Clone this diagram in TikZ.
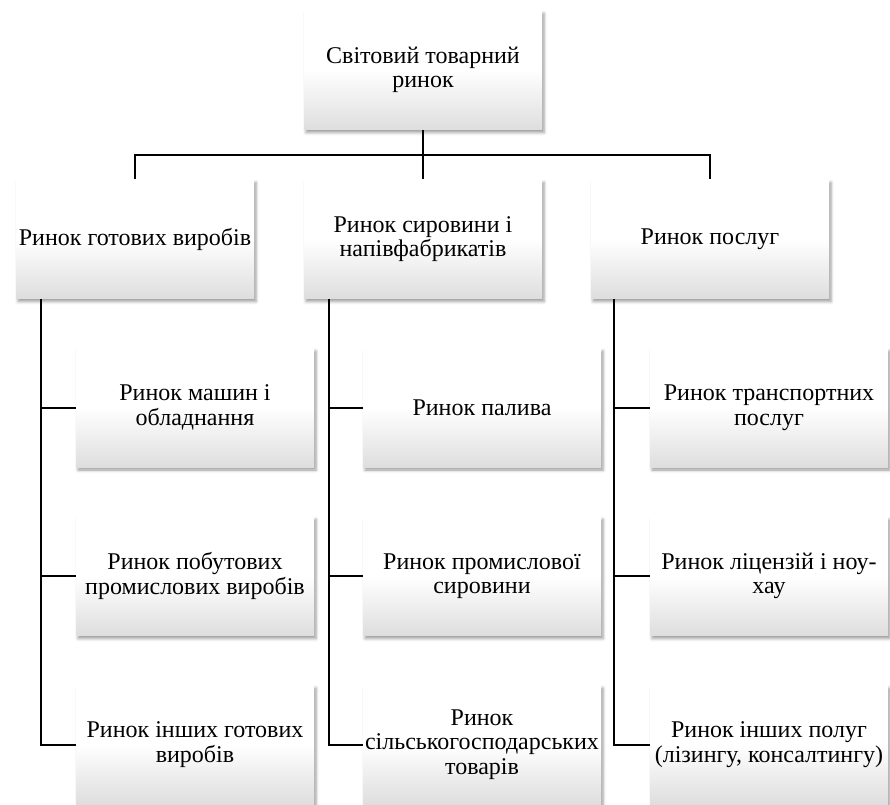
\documentclass[tikz,border=0pt]{standalone}
\usepackage{fontspec}
\setmainfont{Liberation Serif}
\usetikzlibrary{shadows.blur}
\tikzset{
  market/.style={minimum width=238pt, minimum height=119pt, inner sep=1pt, align=center,
    top color=white, bottom color=black!13, middle color=white,
    blur shadow={shadow xshift=2pt, shadow yshift=-3pt, shadow blur radius=3pt},
    font=\fontsize{24}{24.5}\selectfont},
  link/.style={line width=2pt}
}
\begin{document}
\begin{tikzpicture}[x=1pt,y=-1pt]
    \useasboundingbox (0,0) rectangle (890,804);
    % top
    \node[market] (world) at (423,70) {Світовий товарний\\ринок};
    %
    \node[market] (ready) at (135,239) {Ринок готових виробів};
    \node[market] (raw)   at (423,239) {Ринок сировини і\\напівфабрикатів};
    \node[market] (serv)  at (710,239) {Ринок послуг};
    %
    \node[market] (ready1) at (195,407.5) {Ринок машин і\\обладнання};
    \node[market] (ready2) at (195,576)   {Ринок побутових\\промислових виробів};
    \node[market] (ready3) at (195,744.5) {Ринок інших готових\\виробів};
    %
    \node[market] (raw1) at (482,407.5) {Ринок палива};
    \node[market] (raw2) at (482,576)   {Ринок промислової\\сировини};
    \node[market] (raw3) at (482,744.5) {Ринок\\сільськогосподарських\\товарів};
    %
    \node[market] (serv1) at (769,407.5) {Ринок транспортних\\послуг};
    \node[market] (serv2) at (769,576)   {Ринок ліцензій і ноу-\\хау};
    \node[market] (serv3) at (769,744.5) {Ринок інших полуг\\(лізингу, консалтингу)};
    %
    \coordinate (bus) at (423,155);
    \draw[link] (world) -- (raw);
    \draw[link] (ready.north) -- (ready.north |- bus) -| (serv.north);
    %
    \coordinate (ta) at ([xshift=25pt]ready.south west);
    \coordinate (tb) at ([xshift=25pt]raw.south west);
    \coordinate (tc) at ([xshift=23pt]serv.south west);
    \draw[link] (ta) |- (ready3.west);
    \draw[link] (ta |- ready1.west) -- (ready1.west);
    \draw[link] (ta |- ready2.west) -- (ready2.west);
    \draw[link] (tb) |- (raw3.west);
    \draw[link] (tb |- raw1.west) -- (raw1.west);
    \draw[link] (tb |- raw2.west) -- (raw2.west);
    \draw[link] (tc) |- (serv3.west);
    \draw[link] (tc |- serv1.west) -- (serv1.west);
    \draw[link] (tc |- serv2.west) -- (serv2.west);
\end{tikzpicture}
\end{document}
